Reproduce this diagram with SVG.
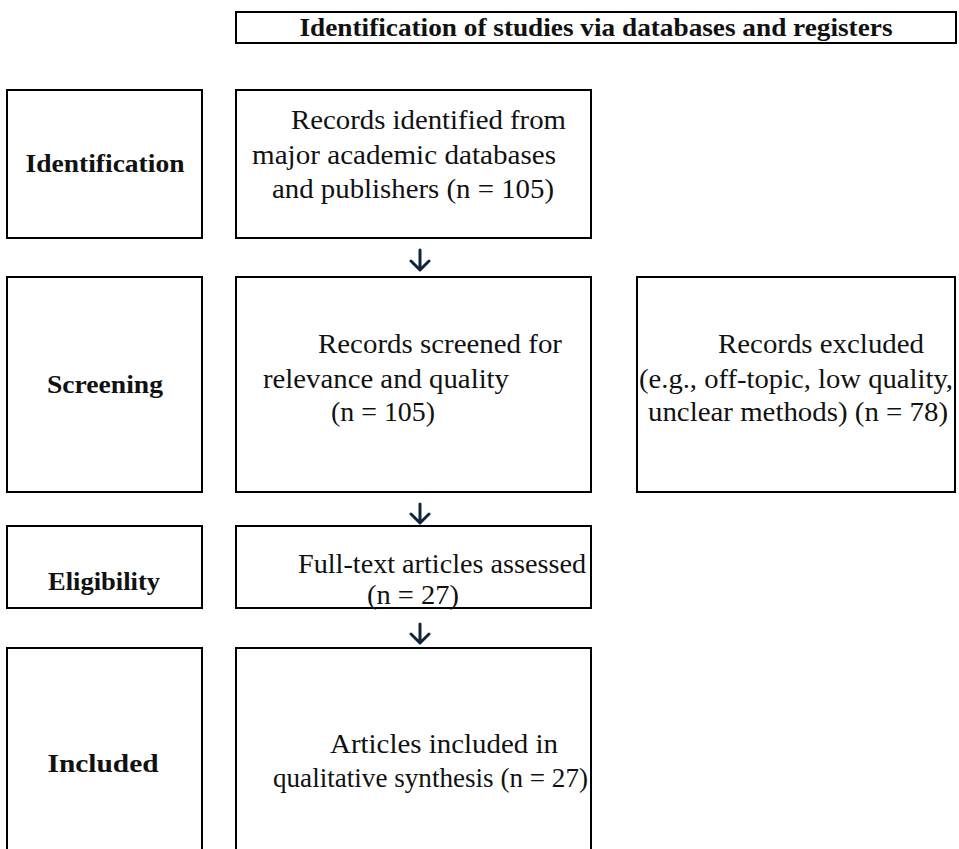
<svg xmlns="http://www.w3.org/2000/svg" width="959" height="849" viewBox="0 0 959 849">
<style>
.box{fill:#fff;stroke:#000;stroke-width:2}
.lbl{font-family:"Liberation Serif",serif;font-weight:bold;font-size:25px;fill:#111;text-anchor:middle}
.ttl{font-family:"Liberation Serif",serif;font-weight:bold;font-size:25px;fill:#111;text-anchor:middle}
.txt{font-family:"Liberation Serif",serif;font-size:27px;fill:#111}
.arr{fill:none;stroke:#13243d;stroke-width:3;stroke-linecap:round;stroke-linejoin:round}
</style>
<rect width="959" height="849" fill="#fff"/>
<g id="title">
<rect class="box" x="236" y="12" width="720" height="31"/>
<text class="ttl" x="596" y="36" textLength="593" lengthAdjust="spacingAndGlyphs">Identification of studies via databases and registers</text>
</g>
<g id="lab-identification">
<rect class="box" x="7" y="90" width="195" height="148"/>
<text class="lbl" x="105" y="172" textLength="159" lengthAdjust="spacingAndGlyphs">Identification</text>
</g>
<g id="records-identified">
<rect class="box" x="236" y="90" width="355" height="148"/>
<text class="txt" x="291" y="129" textLength="275" lengthAdjust="spacingAndGlyphs">Records identified from</text>
<text class="txt" x="252" y="164" textLength="304" lengthAdjust="spacingAndGlyphs">major academic databases</text>
<text class="txt" x="272" y="198" textLength="282" lengthAdjust="spacingAndGlyphs">and publishers (n = 105)</text>
</g>
<g id="lab-screening">
<rect class="box" x="7" y="277" width="195" height="215"/>
<text class="lbl" x="105" y="393" textLength="116" lengthAdjust="spacingAndGlyphs">Screening</text>
</g>
<g id="records-screened">
<rect class="box" x="236" y="277" width="355" height="215"/>
<text class="txt" x="318" y="353" textLength="244" lengthAdjust="spacingAndGlyphs">Records screened for</text>
<text class="txt" x="263" y="388" textLength="246" lengthAdjust="spacingAndGlyphs">relevance and quality</text>
<text class="txt" x="331" y="421" textLength="104" lengthAdjust="spacingAndGlyphs">(n = 105)</text>
</g>
<g id="records-excluded">
<rect class="box" x="637" y="277" width="318" height="215"/>
<text class="txt" x="718" y="353" textLength="206" lengthAdjust="spacingAndGlyphs">Records excluded</text>
<text class="txt" x="639" y="388" textLength="314" lengthAdjust="spacingAndGlyphs">(e.g., off-topic, low quality,</text>
<text class="txt" x="648" y="421" textLength="300" lengthAdjust="spacingAndGlyphs">unclear methods) (n = 78)</text>
</g>
<g id="lab-eligibility">
<rect class="box" x="7" y="526" width="195" height="82"/>
<text class="lbl" x="104" y="590" textLength="112" lengthAdjust="spacingAndGlyphs">Eligibility</text>
</g>
<g id="fulltext">
<rect class="box" x="236" y="526" width="355" height="82"/>
<text class="txt" x="298" y="573" textLength="288" lengthAdjust="spacingAndGlyphs">Full-text articles assessed</text>
<text class="txt" x="367" y="604" textLength="92" lengthAdjust="spacingAndGlyphs">(n = 27)</text>
</g>
<g id="lab-included">
<rect class="box" x="7" y="648" width="195" height="215"/>
<text class="lbl" x="103" y="772" textLength="111" lengthAdjust="spacingAndGlyphs">Included</text>
</g>
<g id="articles-included">
<rect class="box" x="236" y="648" width="355" height="215"/>
<text class="txt" x="330" y="753" textLength="228" lengthAdjust="spacingAndGlyphs">Articles included in</text>
<text class="txt" x="273" y="787" textLength="315" lengthAdjust="spacingAndGlyphs">qualitative synthesis (n = 27)</text>
</g>
<g id="connectors">
<path class="arr" d="M420 250V270M411 261L420 270L429 261"/>
<path class="arr" d="M420 504V523M411 514L420 523L429 514"/>
<path class="arr" d="M420 624V643M411 634L420 643L429 634"/>
</g>
</svg>
